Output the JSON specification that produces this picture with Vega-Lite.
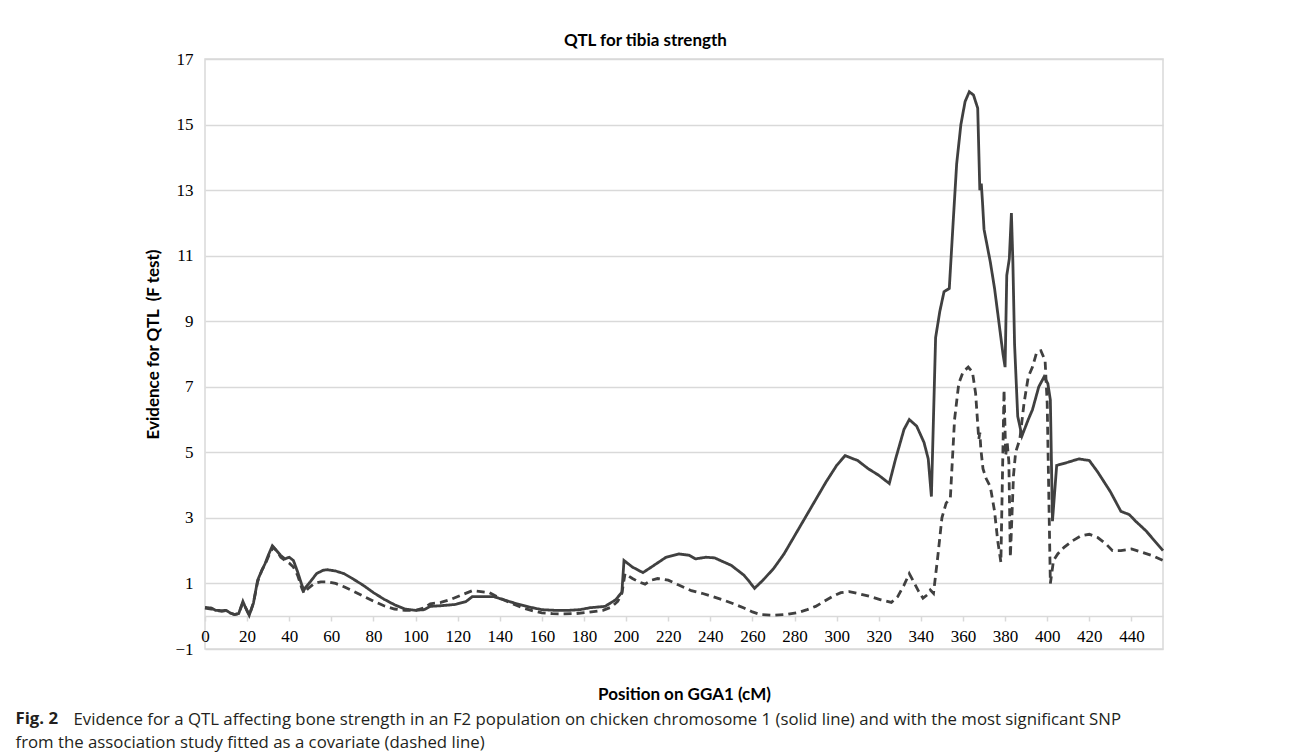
{
  "$schema": "https://vega.github.io/schema/vega-lite/v6.json",
  "width": 958,
  "height": 590,
  "autosize": {"type": "none"},
  "padding": {"left": 205, "top": 59, "right": 130, "bottom": 104},
  "background": "white",
  "datasets": {
    "qtl": [
      {"pos": 0, "F": 0.27, "s": "solid"}, {"pos": 3, "F": 0.25, "s": "solid"}, {"pos": 5, "F": 0.18, "s": "solid"}, {"pos": 8, "F": 0.17, "s": "solid"}, {"pos": 10, "F": 0.18, "s": "solid"}, {"pos": 12, "F": 0.1, "s": "solid"}, {"pos": 14, "F": 0.05, "s": "solid"}, {"pos": 16, "F": 0.08, "s": "solid"}, {"pos": 18, "F": 0.45, "s": "solid"}, {"pos": 19, "F": 0.3, "s": "solid"}, {"pos": 21, "F": 0.03, "s": "solid"}, {"pos": 23, "F": 0.4, "s": "solid"}, {"pos": 25, "F": 1.1, "s": "solid"}, {"pos": 27, "F": 1.4, "s": "solid"}, {"pos": 28.5, "F": 1.6, "s": "solid"}, {"pos": 30, "F": 1.85, "s": "solid"}, {"pos": 32, "F": 2.15, "s": "solid"}, {"pos": 34, "F": 2.0, "s": "solid"}, {"pos": 36, "F": 1.85, "s": "solid"}, {"pos": 38, "F": 1.75, "s": "solid"}, {"pos": 40, "F": 1.8, "s": "solid"}, {"pos": 42, "F": 1.7, "s": "solid"}, {"pos": 44, "F": 1.35, "s": "solid"}, {"pos": 46, "F": 0.95, "s": "solid"}, {"pos": 47, "F": 0.8, "s": "solid"}, {"pos": 48, "F": 0.9, "s": "solid"}, {"pos": 50, "F": 1.05, "s": "solid"}, {"pos": 53, "F": 1.3, "s": "solid"}, {"pos": 56, "F": 1.4, "s": "solid"}, {"pos": 58, "F": 1.42, "s": "solid"}, {"pos": 62, "F": 1.38, "s": "solid"}, {"pos": 66, "F": 1.3, "s": "solid"}, {"pos": 70, "F": 1.15, "s": "solid"}, {"pos": 75, "F": 0.95, "s": "solid"}, {"pos": 80, "F": 0.72, "s": "solid"}, {"pos": 85, "F": 0.52, "s": "solid"}, {"pos": 90, "F": 0.35, "s": "solid"}, {"pos": 95, "F": 0.22, "s": "solid"}, {"pos": 100, "F": 0.18, "s": "solid"}, {"pos": 104, "F": 0.2, "s": "solid"}, {"pos": 107, "F": 0.3, "s": "solid"}, {"pos": 112, "F": 0.32, "s": "solid"}, {"pos": 119, "F": 0.36, "s": "solid"}, {"pos": 124, "F": 0.45, "s": "solid"}, {"pos": 127, "F": 0.6, "s": "solid"}, {"pos": 132, "F": 0.6, "s": "solid"}, {"pos": 137, "F": 0.6, "s": "solid"}, {"pos": 142, "F": 0.5, "s": "solid"}, {"pos": 148, "F": 0.38, "s": "solid"}, {"pos": 154, "F": 0.28, "s": "solid"}, {"pos": 160, "F": 0.2, "s": "solid"}, {"pos": 166, "F": 0.18, "s": "solid"}, {"pos": 173, "F": 0.18, "s": "solid"}, {"pos": 178, "F": 0.2, "s": "solid"}, {"pos": 183, "F": 0.26, "s": "solid"}, {"pos": 190, "F": 0.3, "s": "solid"}, {"pos": 195, "F": 0.5, "s": "solid"}, {"pos": 198, "F": 0.73, "s": "solid"}, {"pos": 199, "F": 1.7, "s": "solid"}, {"pos": 203, "F": 1.5, "s": "solid"}, {"pos": 208, "F": 1.33, "s": "solid"}, {"pos": 212, "F": 1.5, "s": "solid"}, {"pos": 219, "F": 1.8, "s": "solid"}, {"pos": 225, "F": 1.9, "s": "solid"}, {"pos": 230, "F": 1.86, "s": "solid"}, {"pos": 233, "F": 1.75, "s": "solid"}, {"pos": 238, "F": 1.8, "s": "solid"}, {"pos": 242, "F": 1.78, "s": "solid"}, {"pos": 250, "F": 1.55, "s": "solid"}, {"pos": 256, "F": 1.25, "s": "solid"}, {"pos": 258, "F": 1.1, "s": "solid"}, {"pos": 261, "F": 0.85, "s": "solid"}, {"pos": 265, "F": 1.1, "s": "solid"}, {"pos": 270, "F": 1.45, "s": "solid"}, {"pos": 275, "F": 1.9, "s": "solid"}, {"pos": 280, "F": 2.45, "s": "solid"}, {"pos": 285, "F": 3.0, "s": "solid"}, {"pos": 290, "F": 3.55, "s": "solid"}, {"pos": 295, "F": 4.1, "s": "solid"}, {"pos": 300, "F": 4.6, "s": "solid"}, {"pos": 304, "F": 4.9, "s": "solid"}, {"pos": 310, "F": 4.75, "s": "solid"}, {"pos": 315, "F": 4.5, "s": "solid"}, {"pos": 320, "F": 4.3, "s": "solid"}, {"pos": 325, "F": 4.05, "s": "solid"}, {"pos": 328, "F": 4.8, "s": "solid"}, {"pos": 332, "F": 5.7, "s": "solid"}, {"pos": 334.5, "F": 6.0, "s": "solid"}, {"pos": 338, "F": 5.8, "s": "solid"}, {"pos": 341.5, "F": 5.3, "s": "solid"}, {"pos": 343.5, "F": 4.8, "s": "solid"}, {"pos": 345, "F": 3.65, "s": "solid"}, {"pos": 347, "F": 8.5, "s": "solid"}, {"pos": 349, "F": 9.3, "s": "solid"}, {"pos": 351, "F": 9.9, "s": "solid"}, {"pos": 353.5, "F": 10.0, "s": "solid"}, {"pos": 355.5, "F": 12.2, "s": "solid"}, {"pos": 357, "F": 13.8, "s": "solid"}, {"pos": 359, "F": 15.0, "s": "solid"}, {"pos": 361, "F": 15.7, "s": "solid"}, {"pos": 363, "F": 16.0, "s": "solid"}, {"pos": 365, "F": 15.9, "s": "solid"}, {"pos": 367, "F": 15.5, "s": "solid"}, {"pos": 368, "F": 13.0, "s": "solid"}, {"pos": 368.7, "F": 13.2, "s": "solid"}, {"pos": 369.3, "F": 12.6, "s": "solid"}, {"pos": 370, "F": 11.8, "s": "solid"}, {"pos": 373, "F": 10.8, "s": "solid"}, {"pos": 375, "F": 10.0, "s": "solid"}, {"pos": 377, "F": 9.0, "s": "solid"}, {"pos": 379, "F": 8.0, "s": "solid"}, {"pos": 380, "F": 7.6, "s": "solid"}, {"pos": 380.8, "F": 10.4, "s": "solid"}, {"pos": 382, "F": 10.9, "s": "solid"}, {"pos": 383, "F": 12.3, "s": "solid"}, {"pos": 383.7, "F": 10.8, "s": "solid"}, {"pos": 384.5, "F": 8.3, "s": "solid"}, {"pos": 386, "F": 6.1, "s": "solid"}, {"pos": 388, "F": 5.5, "s": "solid"}, {"pos": 391, "F": 6.0, "s": "solid"}, {"pos": 393, "F": 6.3, "s": "solid"}, {"pos": 396, "F": 7.0, "s": "solid"}, {"pos": 398.5, "F": 7.3, "s": "solid"}, {"pos": 400.3, "F": 7.1, "s": "solid"}, {"pos": 401.5, "F": 6.6, "s": "solid"}, {"pos": 402.5, "F": 2.9, "s": "solid"}, {"pos": 404.5, "F": 4.6, "s": "solid"}, {"pos": 410, "F": 4.7, "s": "solid"}, {"pos": 415, "F": 4.8, "s": "solid"}, {"pos": 420, "F": 4.75, "s": "solid"}, {"pos": 424, "F": 4.4, "s": "solid"}, {"pos": 430, "F": 3.8, "s": "solid"}, {"pos": 435, "F": 3.2, "s": "solid"}, {"pos": 439, "F": 3.1, "s": "solid"}, {"pos": 442, "F": 2.9, "s": "solid"}, {"pos": 447, "F": 2.6, "s": "solid"}, {"pos": 451, "F": 2.3, "s": "solid"}, {"pos": 455, "F": 2.0, "s": "solid"},
      {"pos": 0, "F": 0.25, "s": "dashed"}, {"pos": 3, "F": 0.22, "s": "dashed"}, {"pos": 5, "F": 0.18, "s": "dashed"}, {"pos": 8, "F": 0.15, "s": "dashed"}, {"pos": 10, "F": 0.17, "s": "dashed"}, {"pos": 12, "F": 0.1, "s": "dashed"}, {"pos": 14, "F": 0.05, "s": "dashed"}, {"pos": 16, "F": 0.08, "s": "dashed"}, {"pos": 18, "F": 0.42, "s": "dashed"}, {"pos": 19, "F": 0.3, "s": "dashed"}, {"pos": 21, "F": 0.03, "s": "dashed"}, {"pos": 23, "F": 0.4, "s": "dashed"}, {"pos": 25, "F": 1.05, "s": "dashed"}, {"pos": 27, "F": 1.4, "s": "dashed"}, {"pos": 29, "F": 1.65, "s": "dashed"}, {"pos": 31, "F": 1.95, "s": "dashed"}, {"pos": 32.5, "F": 2.1, "s": "dashed"}, {"pos": 34, "F": 2.0, "s": "dashed"}, {"pos": 36, "F": 1.8, "s": "dashed"}, {"pos": 38, "F": 1.7, "s": "dashed"}, {"pos": 40, "F": 1.62, "s": "dashed"}, {"pos": 42, "F": 1.5, "s": "dashed"}, {"pos": 44, "F": 1.25, "s": "dashed"}, {"pos": 46, "F": 0.85, "s": "dashed"}, {"pos": 47, "F": 0.7, "s": "dashed"}, {"pos": 49, "F": 0.85, "s": "dashed"}, {"pos": 52, "F": 1.0, "s": "dashed"}, {"pos": 55, "F": 1.05, "s": "dashed"}, {"pos": 58, "F": 1.05, "s": "dashed"}, {"pos": 62, "F": 1.0, "s": "dashed"}, {"pos": 66, "F": 0.9, "s": "dashed"}, {"pos": 70, "F": 0.78, "s": "dashed"}, {"pos": 75, "F": 0.62, "s": "dashed"}, {"pos": 80, "F": 0.46, "s": "dashed"}, {"pos": 85, "F": 0.32, "s": "dashed"}, {"pos": 90, "F": 0.22, "s": "dashed"}, {"pos": 95, "F": 0.18, "s": "dashed"}, {"pos": 100, "F": 0.18, "s": "dashed"}, {"pos": 104, "F": 0.25, "s": "dashed"}, {"pos": 107, "F": 0.38, "s": "dashed"}, {"pos": 112, "F": 0.42, "s": "dashed"}, {"pos": 117, "F": 0.52, "s": "dashed"}, {"pos": 122, "F": 0.65, "s": "dashed"}, {"pos": 127, "F": 0.78, "s": "dashed"}, {"pos": 131, "F": 0.75, "s": "dashed"}, {"pos": 135, "F": 0.72, "s": "dashed"}, {"pos": 140, "F": 0.55, "s": "dashed"}, {"pos": 146, "F": 0.38, "s": "dashed"}, {"pos": 151, "F": 0.25, "s": "dashed"}, {"pos": 156, "F": 0.16, "s": "dashed"}, {"pos": 160, "F": 0.1, "s": "dashed"}, {"pos": 165, "F": 0.08, "s": "dashed"}, {"pos": 170, "F": 0.07, "s": "dashed"}, {"pos": 176, "F": 0.08, "s": "dashed"}, {"pos": 182, "F": 0.12, "s": "dashed"}, {"pos": 189, "F": 0.18, "s": "dashed"}, {"pos": 193, "F": 0.28, "s": "dashed"}, {"pos": 196, "F": 0.45, "s": "dashed"}, {"pos": 198, "F": 0.7, "s": "dashed"}, {"pos": 199.5, "F": 1.3, "s": "dashed"}, {"pos": 203, "F": 1.15, "s": "dashed"}, {"pos": 206, "F": 1.05, "s": "dashed"}, {"pos": 209, "F": 0.98, "s": "dashed"}, {"pos": 212, "F": 1.1, "s": "dashed"}, {"pos": 215, "F": 1.15, "s": "dashed"}, {"pos": 220, "F": 1.1, "s": "dashed"}, {"pos": 225, "F": 0.95, "s": "dashed"}, {"pos": 231, "F": 0.78, "s": "dashed"}, {"pos": 236, "F": 0.7, "s": "dashed"}, {"pos": 240, "F": 0.62, "s": "dashed"}, {"pos": 246, "F": 0.5, "s": "dashed"}, {"pos": 251, "F": 0.38, "s": "dashed"}, {"pos": 256, "F": 0.25, "s": "dashed"}, {"pos": 260, "F": 0.13, "s": "dashed"}, {"pos": 264, "F": 0.05, "s": "dashed"}, {"pos": 270, "F": 0.03, "s": "dashed"}, {"pos": 277, "F": 0.06, "s": "dashed"}, {"pos": 282, "F": 0.12, "s": "dashed"}, {"pos": 286, "F": 0.2, "s": "dashed"}, {"pos": 290, "F": 0.3, "s": "dashed"}, {"pos": 294, "F": 0.45, "s": "dashed"}, {"pos": 298, "F": 0.6, "s": "dashed"}, {"pos": 302, "F": 0.72, "s": "dashed"}, {"pos": 306, "F": 0.75, "s": "dashed"}, {"pos": 311, "F": 0.68, "s": "dashed"}, {"pos": 316, "F": 0.6, "s": "dashed"}, {"pos": 321, "F": 0.5, "s": "dashed"}, {"pos": 326, "F": 0.42, "s": "dashed"}, {"pos": 329, "F": 0.6, "s": "dashed"}, {"pos": 332, "F": 0.95, "s": "dashed"}, {"pos": 334.5, "F": 1.3, "s": "dashed"}, {"pos": 337, "F": 1.0, "s": "dashed"}, {"pos": 339, "F": 0.75, "s": "dashed"}, {"pos": 341, "F": 0.55, "s": "dashed"}, {"pos": 343, "F": 0.65, "s": "dashed"}, {"pos": 344.5, "F": 0.8, "s": "dashed"}, {"pos": 346, "F": 0.7, "s": "dashed"}, {"pos": 348, "F": 1.8, "s": "dashed"}, {"pos": 350, "F": 3.0, "s": "dashed"}, {"pos": 352, "F": 3.45, "s": "dashed"}, {"pos": 354, "F": 3.6, "s": "dashed"}, {"pos": 356, "F": 6.0, "s": "dashed"}, {"pos": 358, "F": 7.1, "s": "dashed"}, {"pos": 360, "F": 7.45, "s": "dashed"}, {"pos": 362.5, "F": 7.6, "s": "dashed"}, {"pos": 364.5, "F": 7.45, "s": "dashed"}, {"pos": 366, "F": 6.8, "s": "dashed"}, {"pos": 367.5, "F": 5.4, "s": "dashed"}, {"pos": 368, "F": 5.6, "s": "dashed"}, {"pos": 368.5, "F": 5.1, "s": "dashed"}, {"pos": 369.5, "F": 4.5, "s": "dashed"}, {"pos": 371, "F": 4.2, "s": "dashed"}, {"pos": 373, "F": 3.95, "s": "dashed"}, {"pos": 375, "F": 3.2, "s": "dashed"}, {"pos": 376.5, "F": 2.3, "s": "dashed"}, {"pos": 378, "F": 1.65, "s": "dashed"}, {"pos": 379.5, "F": 6.9, "s": "dashed"}, {"pos": 380.3, "F": 4.9, "s": "dashed"}, {"pos": 381, "F": 5.3, "s": "dashed"}, {"pos": 381.8, "F": 4.7, "s": "dashed"}, {"pos": 382.5, "F": 1.8, "s": "dashed"}, {"pos": 384, "F": 4.3, "s": "dashed"}, {"pos": 385, "F": 5.0, "s": "dashed"}, {"pos": 387, "F": 5.4, "s": "dashed"}, {"pos": 389, "F": 6.5, "s": "dashed"}, {"pos": 391, "F": 7.3, "s": "dashed"}, {"pos": 393, "F": 7.6, "s": "dashed"}, {"pos": 395, "F": 8.05, "s": "dashed"}, {"pos": 397, "F": 8.1, "s": "dashed"}, {"pos": 399, "F": 7.8, "s": "dashed"}, {"pos": 400, "F": 6.5, "s": "dashed"}, {"pos": 401.5, "F": 1.0, "s": "dashed"}, {"pos": 403, "F": 1.7, "s": "dashed"}, {"pos": 405, "F": 1.9, "s": "dashed"}, {"pos": 408, "F": 2.1, "s": "dashed"}, {"pos": 412, "F": 2.3, "s": "dashed"}, {"pos": 416, "F": 2.45, "s": "dashed"}, {"pos": 420, "F": 2.5, "s": "dashed"}, {"pos": 424, "F": 2.4, "s": "dashed"}, {"pos": 428, "F": 2.2, "s": "dashed"}, {"pos": 431, "F": 2.0, "s": "dashed"}, {"pos": 435, "F": 2.0, "s": "dashed"}, {"pos": 440, "F": 2.05, "s": "dashed"}, {"pos": 445, "F": 1.95, "s": "dashed"}, {"pos": 450, "F": 1.85, "s": "dashed"}, {"pos": 455, "F": 1.7, "s": "dashed"}
    ]
  },
  "data": {"name": "qtl"},
  "resolve": {"axis": {"x": "independent", "y": "independent"}},
  "layer": [
    {
      "mark": {"type": "line", "color": "#404040", "strokeWidth": 2.8, "interpolate": "linear"},
      "encoding": {
        "x": {
          "field": "pos", "type": "quantitative",
          "scale": {"domain": [0, 455], "nice": false, "zero": false},
          "axis": {
            "orient": "bottom", "offset": -33,
            "values": [0, 20, 40, 60, 80, 100, 120, 140, 160, 180, 200, 220, 240, 260, 280, 300, 320, 340, 360, 380, 400, 420, 440],
            "grid": false, "domainColor": "#d9d9d9", "domainWidth": 1.5,
            "ticks": true, "tickColor": "#d9d9d9", "tickSize": 5, "tickWidth": 1.5,
            "labelFont": "Liberation Serif", "labelFontSize": 17, "labelColor": "#000000", "labelPadding": 7,
            "labelFlush": false,
            "title": "Position on GGA1 (cM)", "titleFont": "Lato", "titleFontSize": 17, "titleFontWeight": "bold", "titleColor": "#000000", "titlePadding": 42
          }
        },
        "y": {
          "field": "F", "type": "quantitative",
          "scale": {"domain": [-1, 17], "nice": false, "zero": false},
          "axis": {
            "orient": "left",
            "values": [-1, 1, 3, 5, 7, 9, 11, 13, 15, 17],
            "grid": true, "gridColor": "#d9d9d9", "gridWidth": 1.5,
            "domain": false, "ticks": false,
            "labelFont": "Liberation Serif", "labelFontSize": 17, "labelColor": "#000000", "labelPadding": 12,
            "title": "Evidence for QTL\u00a0 (F test)", "titleFont": "Lato", "titleFontSize": 17, "titleFontWeight": "bold", "titleColor": "#000000", "titlePadding": 12, "titleY": 285
          }
        },
        "strokeDash": {
          "field": "s", "type": "nominal",
          "scale": {"domain": ["solid", "dashed"], "range": [[1, 0], [8, 5]]},
          "legend": null
        }
      }
    },
    {
      "mark": {"type": "line", "strokeOpacity": 0},
      "encoding": {
        "x": {
          "field": "pos", "type": "quantitative",
          "axis": {
            "orient": "top", "labels": false, "ticks": false, "domain": false, "grid": false,
            "title": "QTL for tibia strength", "titleFont": "Lato", "titleFontSize": 17, "titleFontWeight": "bold", "titleColor": "#000000", "titlePadding": 10, "titleX": 440, "titleAlign": "center"
          }
        },
        "y": {
          "field": "F", "type": "quantitative",
          "axis": {
            "orient": "right", "labels": false, "ticks": false, "domain": false, "grid": false,
            "title": "Evidence for a QTL affecting bone strength in an F2 population on chicken chromosome 1 (solid line) and with the most significant SNP",
            "titleFont": "Open Sans", "titleFontSize": 16.8, "titleFontWeight": "normal", "titleColor": "#231f20",
            "titleAngle": 0, "titleAlign": "left", "titleBaseline": "middle", "titleLimit": 2000,
            "titleX": -1090, "titleY": 660
          }
        },
        "detail": {"field": "s", "type": "nominal"}
      }
    },
    {
      "mark": {"type": "line", "strokeOpacity": 0},
      "encoding": {
        "x": {
          "field": "pos", "type": "quantitative",
          "axis": {
            "orient": "bottom", "labels": false, "ticks": false, "domain": false, "grid": false,
            "title": "Fig. 2", "titleFont": "Open Sans", "titleFontSize": 16.8, "titleFontWeight": "bold", "titleColor": "#231f20",
            "titleAlign": "left", "titleBaseline": "middle", "titleX": -190, "titleY": 69
          }
        },
        "y": {
          "field": "F", "type": "quantitative",
          "axis": {
            "orient": "right", "labels": false, "ticks": false, "domain": false, "grid": false,
            "title": "from the association study fitted as a covariate (dashed line)",
            "titleFont": "Open Sans", "titleFontSize": 16.8, "titleFontWeight": "normal", "titleColor": "#231f20",
            "titleAngle": 0, "titleAlign": "left", "titleBaseline": "middle", "titleLimit": 2000,
            "titleX": -1148, "titleY": 683
          }
        },
        "detail": {"field": "s", "type": "nominal"}
      }
    }
  ],
  "config": {
    "view": {"stroke": "#d9d9d9", "strokeWidth": 1.5}
  }
}
